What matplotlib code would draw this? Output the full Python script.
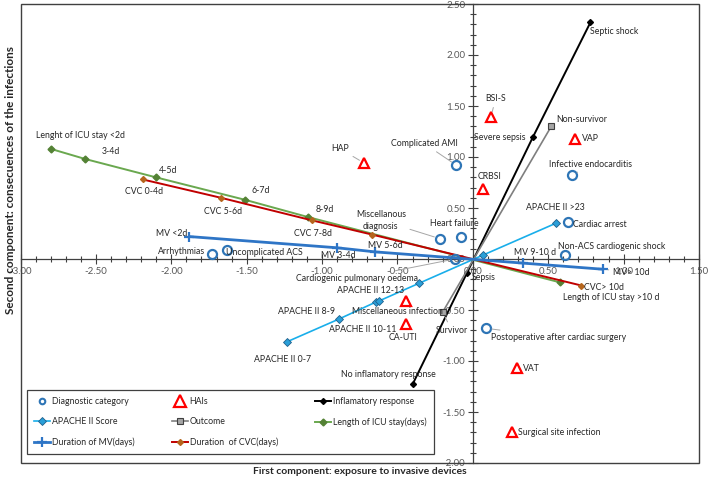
import matplotlib
matplotlib.use('Agg')
import matplotlib.pyplot as plt
from matplotlib.lines import Line2D
from matplotlib.patches import Rectangle
from matplotlib.ticker import MultipleLocator, FormatStrFormatter

plt.rcParams['font.family'] = ['Lato', 'DejaVu Sans']

# ---------------- data ----------------
diag_names = ['Arrhythmias', 'Uncomplicated ACS', 'Complicated AMI', 'Miscellanous\ndiagnosis',
              'Heart failure', 'Cardiogenic pulmonary oedema', 'Infective endocarditis',
              'Cardiac arrest', 'Non-ACS cardiogenic shock', 'Postoperative after cardiac surgery']
diag_x = [-1.73, -1.63, -0.11, -0.22, -0.08, -0.12, 0.66, 0.63, 0.61, 0.09]
diag_y = [0.05, 0.09, 0.92, 0.20, 0.22, 0.00, 0.82, 0.36, 0.04, -0.68]

hai_names = ['HAP', 'BSI-S', 'CRBSI', 'VAP', 'Miscellaneous infection', 'CA-UTI', 'VAT',
             'Surgical site infection']
hai_x = [-0.72, 0.12, 0.07, 0.68, -0.44, -0.44, 0.29, 0.26]
hai_y = [0.94, 1.39, 0.69, 1.18, -0.41, -0.64, -1.07, -1.70]

infl_names = ['No inflamatory response', 'Sepsis', 'Severe sepsis', 'Septic shock']
infl_x = [-0.40, -0.04, 0.40, 0.78]
infl_y = [-1.23, -0.14, 1.20, 2.32]

apache_names = ['APACHE II 0-7', 'APACHE II 8-9', 'APACHE II 10-11', 'APACHE II 12-13', '', '',
                'APACHE II >23']
apache_x = [-1.23, -0.89, -0.64, -0.62, -0.36, 0.07, 0.55]
apache_y = [-0.81, -0.59, -0.42, -0.41, -0.24, 0.04, 0.35]

outcome_names = ['Survivor', 'Non-survivor']
outcome_x = [-0.20, 0.52]
outcome_y = [-0.52, 1.30]

icu_names = ['Lenght of ICU stay <2d', '3-4d', '4-5d', '6-7d', '8-9d', 'Length of ICU stay >10 d']
icu_x = [-2.80, -2.57, -2.10, -1.51, -1.09, 0.58]
icu_y = [1.08, 0.98, 0.80, 0.58, 0.41, -0.23]

mv_names = ['MV <2d', 'MV 3-4d', 'MV 5-6d', 'MV 9-10 d', 'MV> 10d']
mv_x = [-1.88, -0.90, -0.65, 0.33, 0.86]
mv_y = [0.22, 0.11, 0.07, -0.04, -0.10]

cvc_names = ['CVC 0-4d', 'CVC 5-6d', 'CVC 7-8d', '', 'CVC> 10d']
cvc_x = [-2.19, -1.67, -1.07, -0.67, 0.72]
cvc_y = [0.78, 0.60, 0.38, 0.24, -0.26]

# ---------------- layout: label positions (text centre) ----------------
label_pos = {
    'Lenght of ICU stay <2d': (-2.60, 1.21), '3-4d': (-2.40, 1.05), '4-5d': (-2.02, 0.87),
    '6-7d': (-1.41, 0.67), '8-9d': (-0.98, 0.49), 'Length of ICU stay >10 d': (0.92, -0.38),
    'CVC 0-4d': (-2.18, 0.66), 'CVC 5-6d': (-1.66, 0.47), 'CVC 7-8d': (-1.06, 0.25),
    'CVC> 10d': (0.87, -0.275),
    'MV <2d': (-2.00, 0.25), 'MV 3-4d': (-0.89, 0.03), 'MV 5-6d': (-0.58, 0.13),
    'MV 9-10 d': (0.41, 0.06), 'MV> 10d': (1.05, -0.13),
    'Arrhythmias': (-1.93, 0.07), 'Uncomplicated ACS': (-1.38, 0.06),
    'Miscellanous\ndiagnosis': (-0.61, 0.38), 'Heart failure': (-0.12, 0.35),
    'Complicated AMI': (-0.32, 1.13), 'HAP': (-0.88, 1.08),
    'Cardiogenic pulmonary oedema': (-0.77, -0.19), 'APACHE II 12-13': (-0.68, -0.31),
    'Miscellaneous infection': (-0.50, -0.51), 'APACHE II 8-9': (-1.10, -0.51),
    'APACHE II 10-11': (-0.73, -0.69), 'CA-UTI': (-0.46, -0.77), 'Survivor': (-0.14, -0.70),
    'APACHE II 0-7': (-1.26, -0.99), 'No inflamatory response': (-0.56, -1.13),
    'Sepsis': (0.075, -0.18), 'APACHE II >23': (0.55, 0.50), 'Cardiac arrest': (0.84, 0.34),
    'Non-ACS cardiogenic shock': (0.92, 0.12),
    'Postoperative after cardiac surgery': (0.57, -0.77), 'VAT': (0.39, -1.07),
    'Surgical site infection': (0.57, -1.70), 'Septic shock': (0.94, 2.23),
    'BSI-S': (0.15, 1.57), 'Severe sepsis': (0.18, 1.19), 'Non-survivor': (0.72, 1.37),
    'VAP': (0.78, 1.18), 'Infective endocarditis': (0.78, 0.93), 'CRBSI': (0.11, 0.81),
}
leaders = {'HAP', 'Complicated AMI', 'Miscellanous\ndiagnosis', 'Cardiogenic pulmonary oedema',
           'Infective endocarditis', 'BSI-S', 'Postoperative after cardiac surgery', 'MV> 10d',
           'Survivor'}

# ---------------- styles ----------------
C_DIAG = '#2E75B6'
C_HAI = '#FF0000'
C_INFL = '#000000'
C_APA = '#19AEEA'
C_OUT = '#7F7F7F'
C_ICU = '#6AA84F'
C_MV = '#2E75C6'
C_CVC = '#C00000'
TXT = '#262626'
FS = 6.3

fig = plt.figure(figsize=(7.08, 4.78), dpi=100)
ax = fig.add_axes([20.5 / 708, 15 / 478, 678.5 / 708, 459 / 478])
ax.set_xlim(-3.0, 1.5)
ax.set_ylim(-2.0, 2.5)

for s in ['top', 'right']:
    ax.spines[s].set_visible(False)
ax.spines['left'].set_position(('data', 0))
ax.spines['bottom'].set_position(('data', 0))
for s in ['left', 'bottom']:
    ax.spines[s].set_color('#404040')
    ax.spines[s].set_linewidth(0.9)
ax.add_patch(Rectangle((0, 0), 1, 1, transform=ax.transAxes, fill=False,
                       edgecolor='#404040', lw=1.0, clip_on=False, zorder=10))

ax.xaxis.set_major_locator(MultipleLocator(0.5))
ax.xaxis.set_minor_locator(MultipleLocator(0.1))
ax.yaxis.set_major_locator(MultipleLocator(0.5))
ax.yaxis.set_minor_locator(MultipleLocator(0.1))
ax.xaxis.set_major_formatter(FormatStrFormatter('%.2f'))
ax.yaxis.set_major_formatter(FormatStrFormatter('%.2f'))
ax.tick_params(which='major', direction='inout', length=7, width=0.8, color='#404040',
               labelsize=7, labelcolor='#595959', pad=2)
ax.tick_params(which='minor', direction='inout', length=5, width=0.8, color='#404040')

# series
ax.plot(infl_x, infl_y, color=C_INFL, lw=1.4, marker='D', ms=3, zorder=4)
ax.plot(outcome_x, outcome_y, color=C_OUT, lw=1.2, marker='s', ms=5, mfc='#A6A6A6',
        mec='#404040', mew=0.8, zorder=4)
ax.plot(apache_x, apache_y, color=C_APA, lw=1.2, marker='D', ms=4, mfc='#2A9FD8',
        mec='#1F5F8B', mew=0.6, zorder=4)
ax.plot(icu_x, icu_y, color=C_ICU, lw=1.4, marker='D', ms=3.5, mfc='#548235', mec='#548235',
        zorder=4)
ax.plot(cvc_x, cvc_y, color=C_CVC, lw=1.4, marker='D', ms=3, mfc='#B5651D', mec='#B5651D',
        zorder=5)
ax.plot(mv_x, mv_y, color=C_MV, lw=2.0, marker='+', ms=7, mew=1.6, zorder=5)
ax.plot(diag_x, diag_y, ls='none', marker='o', ms=6.5, mfc='none', mec=C_DIAG, mew=1.6, zorder=6)
ax.plot(hai_x, hai_y, ls='none', marker='^', ms=7.5, mfc='none', mec=C_HAI, mew=1.6, zorder=6)

# labels
for names, xs, ys in [(diag_names, diag_x, diag_y), (hai_names, hai_x, hai_y),
                      (infl_names, infl_x, infl_y), (apache_names, apache_x, apache_y),
                      (outcome_names, outcome_x, outcome_y), (icu_names, icu_x, icu_y),
                      (mv_names, mv_x, mv_y), (cvc_names, cvc_x, cvc_y)]:
    for n, x, y in zip(names, xs, ys):
        if not n:
            continue
        tx, ty = label_pos[n]
        if n in leaders:
            ax.annotate(n, xy=(x, y), xytext=(tx, ty), ha='center', va='center', fontsize=FS,
                        color=TXT, linespacing=1.4, zorder=8,
                        arrowprops=dict(arrowstyle='-', color='#A6A6A6', lw=0.7,
                                        shrinkA=1, shrinkB=4))
        else:
            ax.text(tx, ty, n, ha='center', va='center', fontsize=FS, color=TXT, zorder=8)

# legend
handles = [
    Line2D([], [], ls='none', marker='o', ms=4, mfc='none', mec=C_DIAG, mew=1.5),
    Line2D([], [], color=C_APA, lw=1.2, marker='D', ms=4, mfc='#2A9FD8', mec='#1F5F8B', mew=0.6),
    Line2D([], [], color=C_MV, lw=2.0, marker='+', ms=7, mew=1.6),
    Line2D([], [], ls='none', marker='^', ms=8, mfc='none', mec=C_HAI, mew=1.6),
    Line2D([], [], color=C_OUT, lw=1.2, marker='s', ms=5, mfc='#A6A6A6', mec='#404040', mew=0.8),
    Line2D([], [], color=C_CVC, lw=1.4, marker='D', ms=3, mfc='#B5651D', mec='#B5651D'),
    Line2D([], [], color=C_INFL, lw=1.4, marker='D', ms=3),
    Line2D([], [], color=C_ICU, lw=1.4, marker='D', ms=3.5, mfc='#548235', mec='#548235'),
]
labels = ['Diagnostic category', 'APACHE II Score', 'Duration of MV(days)', 'HAIs', 'Outcome',
          'Duration  of CVC(days)', 'Inflamatory response', 'Length of ICU stay(days)']
leg = fig.legend(handles, labels, ncol=3, loc='upper left',
                 bbox_to_anchor=(23 / 708, (478 - 386) / 478, 415 / 708, 0.001),
                 mode='expand', fontsize=FS, frameon=True, fancybox=False, edgecolor='#404040',
                 framealpha=1, handlelength=1.8, handletextpad=0.2, labelspacing=1.3,
                 borderpad=0.8, columnspacing=0.5)
leg.get_frame().set_linewidth(0.9)
for t in leg.get_texts():
    t.set_color(TXT)

fig.text(360 / 708, (478 - 471) / 478, 'First component: exposure to invasive devices',
         ha='center', va='center', fontsize=7.5, fontweight='bold', color=TXT)
fig.text(11 / 708, (478 - 180) / 478, 'Second component: consecuences of the infections',
         ha='center', va='center', rotation=90, fontsize=8.5, fontweight='bold', color=TXT)

fig.savefig('out.png', dpi=100)
